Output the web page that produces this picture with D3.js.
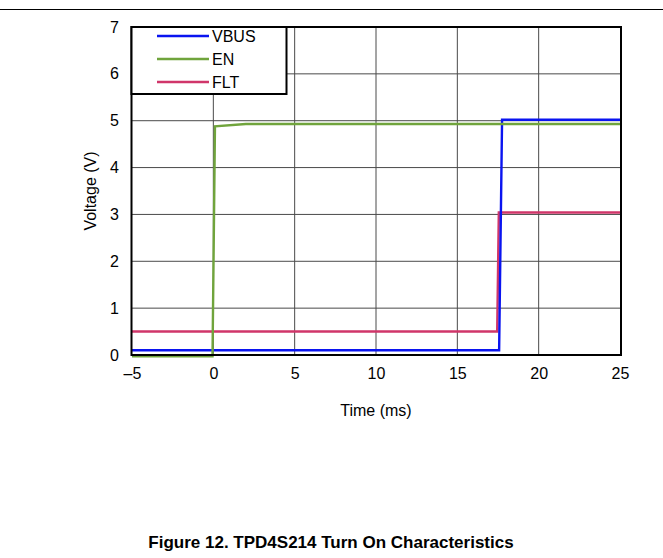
<!DOCTYPE html>
<html>
<head>
<meta charset="utf-8">
<script src="https://cdn.jsdelivr.net/npm/d3@7"></script>
<style>
  html, body { margin: 0; padding: 0; background: #fff; }
  svg { display: block; font-family: "Liberation Sans", Arial, sans-serif; }
</style>
</head>
<body>
<svg id="chart" width="663" height="558"></svg>
<script>
// ---- Data ----
const xTicks = [-5, 0, 5, 10, 15, 20, 25];
const xTickLabels = ["\u20135", "0", "5", "10", "15", "20", "25"];
const yTicks = [0, 1, 2, 3, 4, 5, 6, 7];

const vbusTime = [-5, 0, 5, 10, 15, 17.57, 17.75, 20, 25];
const vbusVolt = [0.1, 0.1, 0.1, 0.1, 0.1, 0.1, 5.02, 5.02, 5.02];

const enTime = [-5, -0.05, 0.1, 2, 5, 10, 15, 20, 25];
const enVolt = [-0.03, -0.03, 4.88, 4.93, 4.93, 4.93, 4.93, 4.93, 4.93];

const fltTime = [-5, 0, 5, 10, 15, 17.45, 17.55, 20, 25];
const fltVolt = [0.5, 0.5, 0.5, 0.5, 0.5, 0.5, 3.04, 3.04, 3.04];

const seriesNames = ["VBUS", "EN", "FLT"];
const seriesColors = ["#0a14f0", "#70a43c", "#d0366a"];

// ---- Layout ----
const svg = d3.select("#chart");
const pL = 132, pR = 620, pT = 27, pB = 355;
const FS = 16;

const x = d3.scaleLinear().domain([-5, 25]).range([pL, pR]);
const y = d3.scaleLinear().domain([0, 7]).range([pB, pT]);

// top rule
svg.append("line").attr("x1", 0).attr("x2", 663).attr("y1", 9.5).attr("y2", 9.5)
  .attr("stroke", "#000").attr("stroke-width", 1.2);

// gridlines
const grid = svg.append("g");
grid.selectAll(".gx").data(xTicks.slice(1, -1)).enter().append("line")
  .attr("x1", d => x(d)).attr("x2", d => x(d)).attr("y1", pT).attr("y2", pB)
  .attr("stroke", "#4a4a4a").attr("stroke-width", 1);
grid.selectAll(".gy").data(yTicks.slice(1, -1)).enter().append("line")
  .attr("x1", pL).attr("x2", pR).attr("y1", d => y(d)).attr("y2", d => y(d))
  .attr("stroke", "#4a4a4a").attr("stroke-width", 1);

// axes (labels only)
const xAxis = d3.axisBottom(x).tickValues(xTicks).tickSize(0).tickPadding(13)
  .tickFormat((d, i) => xTickLabels[i]);
const gx = svg.append("g").attr("transform", `translate(0,${pB})`).call(xAxis);
gx.attr("font-size", FS).attr("font-family", null);
gx.select(".domain").remove();
gx.selectAll("text").attr("fill", "#000");

const yAxis = d3.axisLeft(y).tickValues(yTicks).tickSize(0).tickPadding(13)
  .tickFormat(d3.format("d"));
const gy = svg.append("g").attr("transform", `translate(${pL},0)`).call(yAxis);
gy.attr("font-size", FS).attr("font-family", null);
gy.select(".domain").remove();
gy.selectAll("text").attr("fill", "#000");

// axis titles
svg.append("text").attr("x", (pL + pR) / 2).attr("y", 416)
  .attr("text-anchor", "middle").attr("font-size", FS).text("Time (ms)");
svg.append("text").attr("transform", `translate(96,${(pT + pB) / 2}) rotate(-90)`)
  .attr("text-anchor", "middle").attr("font-size", FS).text("Voltage (V)");

// lines
const line = d3.line().x(d => x(d[0])).y(d => y(d[1]));
const series = [
  d3.zip(vbusTime, vbusVolt),
  d3.zip(enTime, enVolt),
  d3.zip(fltTime, fltVolt)
];
// draw order: FLT, VBUS, EN
[2, 0, 1].forEach(i => {
  svg.append("path").datum(series[i]).attr("d", line)
    .attr("fill", "none").attr("stroke", seriesColors[i]).attr("stroke-width", 2.4)
    .attr("stroke-linejoin", "miter");
});

// frame
svg.append("rect").attr("x", pL - 0.5).attr("y", pT).attr("width", pR - pL + 1.5)
  .attr("height", pB - pT).attr("fill", "none").attr("stroke", "#000").attr("stroke-width", 2);

// legend
const lg = svg.append("g");
lg.append("rect").attr("x", pL - 0.5).attr("y", pT).attr("width", 155).attr("height", 67)
  .attr("fill", "#fff").attr("stroke", "#000").attr("stroke-width", 2);
const legY = [36, 59, 82];
seriesNames.forEach((name, i) => {
  lg.append("line").attr("x1", 157).attr("x2", 209).attr("y1", legY[i]).attr("y2", legY[i])
    .attr("stroke", seriesColors[i]).attr("stroke-width", 2.4);
  lg.append("text").attr("x", 212).attr("y", legY[i] + 5.5).attr("font-size", FS).text(name);
});

// caption
svg.append("text").attr("x", 331).attr("y", 548).attr("text-anchor", "middle")
  .attr("font-size", 17).attr("font-weight", "bold").text("Figure 12. TPD4S214 Turn On Characteristics");
</script>
</body>
</html>
